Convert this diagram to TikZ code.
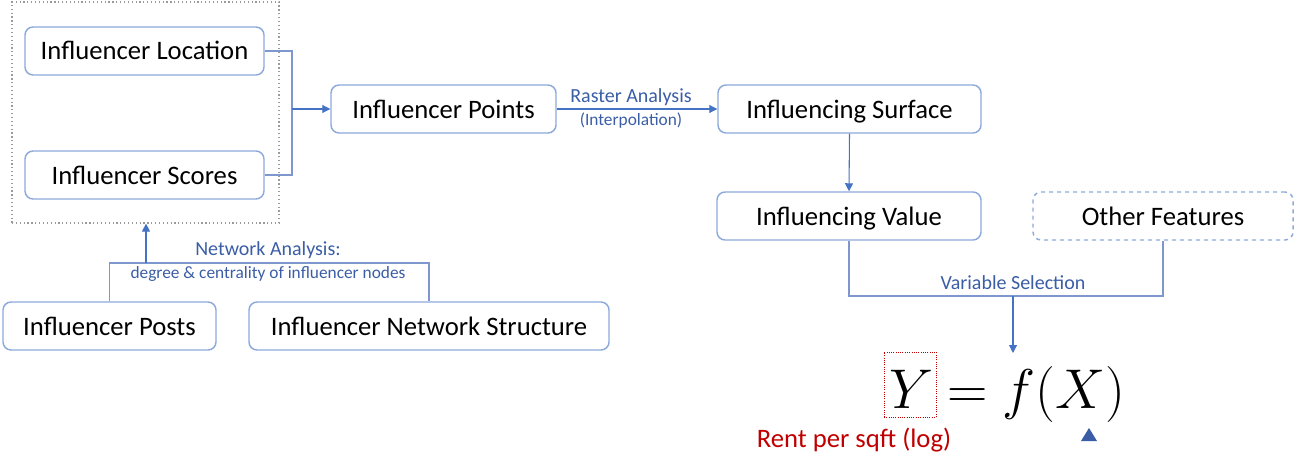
\RequirePackage{fix-cm}
\documentclass[tikz,border=0pt]{standalone}
\usepackage{fontspec}
\setmainfont{Carlito}
\usetikzlibrary{arrows.meta}
\definecolor{boxc}{HTML}{8EA9DB}
\definecolor{connc}{HTML}{7F97CF}
\definecolor{arrc}{HTML}{4472C4}
\definecolor{lblc}{HTML}{3A5DA6}
\definecolor{redc}{HTML}{C00000}
\definecolor{grayc}{HTML}{9A9A9A}
\tikzset{
  box/.style={draw=boxc, line width=1.1pt, rounded corners=6pt, fill=white,
    minimum height=36pt, inner sep=0pt, text height=17.5pt, text depth=4pt,
    font=\fontsize{20}{24}\selectfont},
  conn/.style={draw=connc, line width=0.8pt},
  arrow/.style={draw=arrc, line width=0.8pt, -{Triangle[length=6pt,width=6pt]}},
  lbl/.style={text=lblc, inner sep=0pt, font=\fontsize{15}{18}\selectfont},
  lbls/.style={text=lblc, inner sep=0pt, font=\fontsize{13}{16}\selectfont},
  mathtxt/.style={inner sep=0pt, font=\fontsize{42}{50}\selectfont},
}
\begin{document}
\begin{tikzpicture}[x=0.75pt, y=-0.75pt]
\useasboundingbox (0,0) rectangle (1295,460);

% grouping frame around location and scores
\node[draw=grayc, dotted, line width=0.9pt, inner sep=0pt,
  minimum width=200.25pt, minimum height=165.75pt] (container) at (145.5,112.5) {};

% process boxes
\node[box, minimum width=179.25pt] (loc) at (144.5,51) {Influencer Location};
\node[box, minimum width=179.25pt] (scores) at (144.5,175) {Influencer Scores};
\node[box, minimum width=168.75pt] (points) at (443.5,109) {Influencer Points};
\node[box, minimum width=197.25pt] (surface) at (849.5,109) {Influencing Surface};
\node[box, minimum width=198pt] (value) at (849,216) {Influencing Value};
\node[box, minimum width=195pt, dashed] (other) at (1163,216) {Other Features};
\node[box, minimum width=159.75pt] (posts) at (109.5,326) {Influencer Posts};
\node[box, minimum width=270pt] (netstruct) at (429,326) {Influencer Network Structure};

% location + scores merge into points
\coordinate (br) at (292,109);
\draw[conn] (loc.east) -| (br) |- (scores.east);
\draw[arrow] (br) -- (points.west);

% raster analysis
\draw[arrow] (points.east) -- (surface.west);
\node[lbl] (ra) at (631,97) {Raster Analysis};
\node[lbls] (ip) at (631,121) {(Interpolation)};

% surface to value
\draw[arrow] (surface.south) -- (value.north);

% network analysis
\coordinate (nethub) at (146,263);
\draw[conn] (posts.north) |- (nethub) -| (netstruct.north);
\draw[arrow] (nethub) -- (nethub |- container.south);
\node[lbl] (na) at (268,250) {Network Analysis:};
\node[lbls] (dc) at (268,274) {degree \& centrality of influencer nodes};

% variable selection
\coordinate (vs) at (1013,296);
\coordinate (ftop) at (1013,353);
\draw[conn] (value.south) |- (vs) -| (other.south);
\draw[arrow] (vs) -- (ftop);
\node[lbl] (vsl) at (1013,283) {Variable Selection};

% model equation
\node[draw=redc, densely dotted, line width=0.7pt, inner sep=0pt,
  minimum width=39pt, minimum height=48.75pt] (ybox) at (910,384.5) {};
\node[mathtxt, anchor=base] (yv) at (911,408) {$Y$};
\node[mathtxt, anchor=base] (eq) at (968,408) {$=$};
\node[mathtxt, anchor=base west] (fx) at (1002,408) {$f(X)$};
\node[text=redc, inner sep=0pt, font=\fontsize{20}{24}\selectfont] (rent) at (854,440) {Rent per sqft (log)};
\fill[lblc] (1081,441) -- (1097,441) -- (1089,428) -- cycle;
\end{tikzpicture}
\end{document}
